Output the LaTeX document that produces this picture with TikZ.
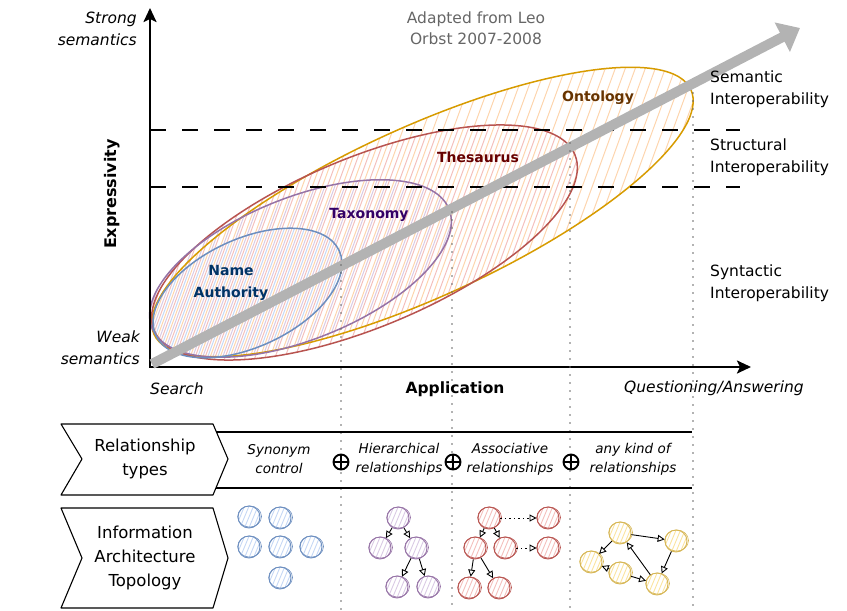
\documentclass[tikz,border=0pt]{standalone}
\usepackage{fontspec}
\setmainfont{DejaVu Sans}
\usetikzlibrary{arrows.meta,calc}

\definecolor{ontoS}{HTML}{D79B00}\definecolor{ontoH}{HTML}{FDD5AE}\definecolor{ontoT}{HTML}{663300}
\definecolor{thesS}{HTML}{B85450}\definecolor{thesH}{HTML}{F4C0BD}\definecolor{thesT}{HTML}{660000}
\definecolor{taxoS}{HTML}{9673A6}\definecolor{taxoH}{HTML}{DACAE4}\definecolor{taxoT}{HTML}{330066}
\definecolor{nameS}{HTML}{6C8EBF}\definecolor{nameH}{HTML}{C6D8F5}\definecolor{nameT}{HTML}{003366}
\definecolor{yellS}{HTML}{D6B656}\definecolor{yellH}{HTML}{FBE4A0}
\definecolor{arrowgray}{HTML}{B3B3B3}
\definecolor{notegray}{HTML}{666666}

% diagonal hachure inside the current clip: colour, horizontal offset
\newcommand\hatchlines[2]{%
  \foreach \k in {-25,...,70}{\draw[#1, line width=1pt] (\k*10+#2,385) -- ++(142,-390);}}

% small sketched topology node: name, x, y, stroke colour, hatch colour
\newcommand\toponode[5]{%
  \begin{scope}
    \clip (#2,#3) circle[radius=11pt];
    \foreach \k in {-4,...,4}{\draw[#5, line width=0.9pt] (#2+\k*4.5-5,#3+12) -- ++(10,-24);}
  \end{scope}
  \draw[#4, line width=0.6pt] (#2+0.6,#3-0.5) circle[x radius=11.9pt, y radius=10.6pt];
  \node[circle, draw=#4, line width=0.9pt, minimum size=22pt, inner sep=0pt] (#1) at (#2,#3) {};}

\tikzset{
  sidelbl/.style={font=\fontsize{15.5}{22}\selectfont, align=left, inner sep=0pt},
  axislbl/.style={font=\fontsize{15.5}{22}\selectfont\itshape, inner sep=0pt},
  elllbl/.style={font=\fontsize{14}{22}\selectfont\bfseries, align=center, inner sep=0pt},
  chevtext/.style={font=\fontsize{16.5}{24}\selectfont, align=center, inner sep=0pt},
  rowtext/.style={font=\fontsize{13.5}{19}\selectfont\itshape, align=center, inner sep=0pt},
  chev/.style={draw=black, line width=1.1pt, line join=round},
  tableline/.style={draw=black, line width=1.2pt},
  levelline/.style={draw=black, line width=1.6pt, dash pattern=on 16pt off 16pt},
  dotline/.style={draw=black!60, line width=1.7pt, line cap=round, dash pattern=on 0pt off 8pt},
  ellline/.style={line width=1.5pt},
  oplus/.style={circle, draw=black, line width=1.9pt, minimum size=15pt, inner sep=0pt,
    path picture={\draw[line width=1.9pt]
      (path picture bounding box.north) -- (path picture bounding box.south)
      (path picture bounding box.west) -- (path picture bounding box.east);}},
  topoedge/.style={draw=black, line width=0.9pt, -{Triangle[open,length=7pt,width=7pt]}},
  topodot/.style={topoedge, dash pattern=on 1.5pt off 3pt},
}

\begin{document}
\begin{tikzpicture}[x=1pt,y=-1pt]
\useasboundingbox (0,0) rectangle (847,611);

% ellipse centres
\coordinate (cOnto) at (422.5,212);
\coordinate (cThes) at (364.5,242.5);
\coordinate (cTaxo) at (300.5,268.5);
\coordinate (cName) at (247.5,293);

% hachure fills
\begin{scope}
  \clip[rotate around={24.5:(cOnto)}] (cOnto) ellipse [x radius=295, y radius=85];
  \hatchlines{ontoH}{0}
\end{scope}
\begin{scope}
  \clip[rotate around={22.7:(cThes)}] (cThes) ellipse [x radius=228, y radius=84.5];
  \hatchlines{thesH}{5}
\end{scope}
\begin{scope}
  \clip[rotate around={21.8:(cTaxo)}] (cTaxo) ellipse [x radius=160, y radius=71];
  \hatchlines{taxoH}{2.5}
\end{scope}
\begin{scope}
  \clip[rotate around={24.8:(cName)}] (cName) ellipse [x radius=101, y radius=54];
  \hatchlines{nameH}{7.5}
\end{scope}

% ellipse outlines
\draw[ellline, ontoS, rotate around={24.5:(cOnto)}] (cOnto) ellipse [x radius=295, y radius=85];
\draw[ellline, thesS, rotate around={22.7:(cThes)}] (cThes) ellipse [x radius=228, y radius=84.5];
\draw[ellline, taxoS, rotate around={21.8:(cTaxo)}] (cTaxo) ellipse [x radius=160, y radius=71];
\draw[ellline, nameS, rotate around={24.8:(cName)}] (cName) ellipse [x radius=101, y radius=54];

% interoperability levels
\coordinate (lv1a) at (150,130); \coordinate (lv1b) at (740,130);
\coordinate (lv2a) at (150,187); \coordinate (lv2b) at (740,187);
\draw[levelline] (lv1a) -- (lv1b);
\draw[levelline] (lv2a) -- (lv2b);

% axes
\coordinate (O) at (150,367);
\coordinate (ytop) at (150,8);
\coordinate (xend) at (751,367);
\draw[line width=2.4pt, {Stealth[length=14pt,width=13pt,inset=3pt]}-{Stealth[length=14pt,width=13pt,inset=3pt]}]
  (ytop) -- (O) -- (xend);

% growth arrow
\coordinate (gs) at (152,364);
\coordinate (gt) at (800,28);
\draw[line width=10pt, arrowgray, -{Triangle[length=20pt,width=32pt]}] (gs) -- (gt);

% column separators
\coordinate (d1t) at (341,265); \coordinate (d1b) at (341,611);
\coordinate (d2t) at (452,212); \coordinate (d2b) at (452,611);
\coordinate (d3t) at (570,143); \coordinate (d3b) at (570,611);
\coordinate (d4t) at (693,93);  \coordinate (d4b) at (693,611);
\draw[dotline] (d1t) -- (d1b);
\draw[dotline] (d2t) -- (d2b);
\draw[dotline] (d3t) -- (d3b);
\draw[dotline] (d4t) -- (d4b);

% ellipse labels
\node[elllbl, ontoT] (onto) at (598,98) {Ontology};
\node[elllbl, thesT] (thes) at (478,157) {Thesaurus};
\node[elllbl, taxoT] (taxo) at (369,215) {Taxonomy};
\node[elllbl, nameT] (name) at (231,283) {Name\\Authority};

% axis texts
\node[axislbl, align=right, anchor=east] (strong) at (137,29) {Strong\\semantics};
\node[axislbl, align=right, anchor=east] (weak) at (140,348) {Weak\\semantics};
\node[font=\fontsize{16}{21}\selectfont\bfseries, rotate=90, inner sep=0pt] (expr) at (112,194) {Expressivity};
\node[font=\fontsize{15.5}{21}\selectfont\bfseries, inner sep=0pt] (appl) at (455,389) {Application};
\node[axislbl, anchor=west] (search) at (150,389) {Search};
\node[axislbl] (qa) at (714,388) {Questioning/Answering};
\node[font=\fontsize{15.5}{21}\selectfont, text=notegray, align=center, inner sep=0pt] (src) at (476,28)
  {Adapted from Leo\\Orbst 2007-2008};

% interoperability labels
\node[sidelbl, anchor=west] (sem) at (710,89) {Semantic\\Interoperability};
\node[sidelbl, anchor=west] (str) at (710,157) {Structural\\Interoperability};
\node[sidelbl, anchor=west] (syn) at (710,283) {Syntactic\\Interoperability};

% relationship types row
\draw[chev] (61,424) -- (213,424) -- (228,459) -- (213,495) -- (61,495) -- (82,459) -- cycle;
\node[chevtext] (reltypes) at (145,459) {Relationship\\types};
\coordinate (t1a) at (216,432); \coordinate (t1b) at (692,432);
\coordinate (t2a) at (216,488); \coordinate (t2b) at (692,488);
\draw[tableline] (t1a) -- (t1b);
\draw[tableline] (t2a) -- (t2b);
\node[rowtext] (rsyn) at (279,459) {Synonym\\control};
\node[rowtext] (rhie) at (399,459) {Hierarchical\\relationships};
\node[rowtext] (rass) at (510,459) {Associative\\relationships};
\node[rowtext] (rany) at (633,459) {any kind of\\relationships};
\node[oplus] (plus1) at (341,462) {};
\node[oplus] (plus2) at (453,462) {};
\node[oplus] (plus3) at (571,462) {};

% topology row
\draw[chev] (61,508) -- (213,508) -- (228,558) -- (213,608) -- (61,608) -- (82,558) -- cycle;
\node[chevtext] (topo) at (145,558) {Information\\Architecture\\Topology};

% synonym rings
\toponode{b1}{249}{517}{nameS}{nameH}
\toponode{b2}{280}{518}{nameS}{nameH}
\toponode{b3}{249}{547}{nameS}{nameH}
\toponode{b4}{280}{547}{nameS}{nameH}
\toponode{b5}{311}{547}{nameS}{nameH}
\toponode{b6}{280}{578}{nameS}{nameH}

% hierarchy
\toponode{p1}{398}{518}{taxoS}{taxoH}
\toponode{p2}{380}{548}{taxoS}{taxoH}
\toponode{p3}{416}{548}{taxoS}{taxoH}
\toponode{p4}{397}{587}{taxoS}{taxoH}
\toponode{p5}{428}{587}{taxoS}{taxoH}
\draw[topoedge] (p1) -- (p2);
\draw[topoedge] (p1) -- (p3);
\draw[topoedge] (p3) -- (p4);
\draw[topoedge] (p3) -- (p5);

% associative
\toponode{r1}{489}{518}{thesS}{thesH}
\toponode{r2}{475}{548}{thesS}{thesH}
\toponode{r3}{505}{548}{thesS}{thesH}
\toponode{r4}{469}{588}{thesS}{thesH}
\toponode{r5}{499}{588}{thesS}{thesH}
\toponode{r6}{548}{518}{thesS}{thesH}
\toponode{r7}{548}{548}{thesS}{thesH}
\draw[topoedge] (r1) -- (r2);
\draw[topoedge] (r1) -- (r3);
\draw[topoedge] (r2) -- (r4);
\draw[topoedge] (r2) -- (r5);
\draw[topodot] (r1) -- (r6);
\draw[topodot] (r3) -- (r7);

% network
\toponode{y1}{620}{533}{yellS}{yellH}
\toponode{y2}{676}{541}{yellS}{yellH}
\toponode{y3}{591}{562}{yellS}{yellH}
\toponode{y4}{620}{573}{yellS}{yellH}
\toponode{y5}{657}{584}{yellS}{yellH}
\draw[topoedge] (y1) -- (y2);
\draw[topoedge] (y1) -- (y3);
\draw[topoedge] (y2) -- (y5);
\draw[topoedge] (y4) -- (y3);
\draw[topoedge] (y4) -- (y5);
\draw[topoedge] (y5) -- (y1);
\end{tikzpicture}
\end{document}
